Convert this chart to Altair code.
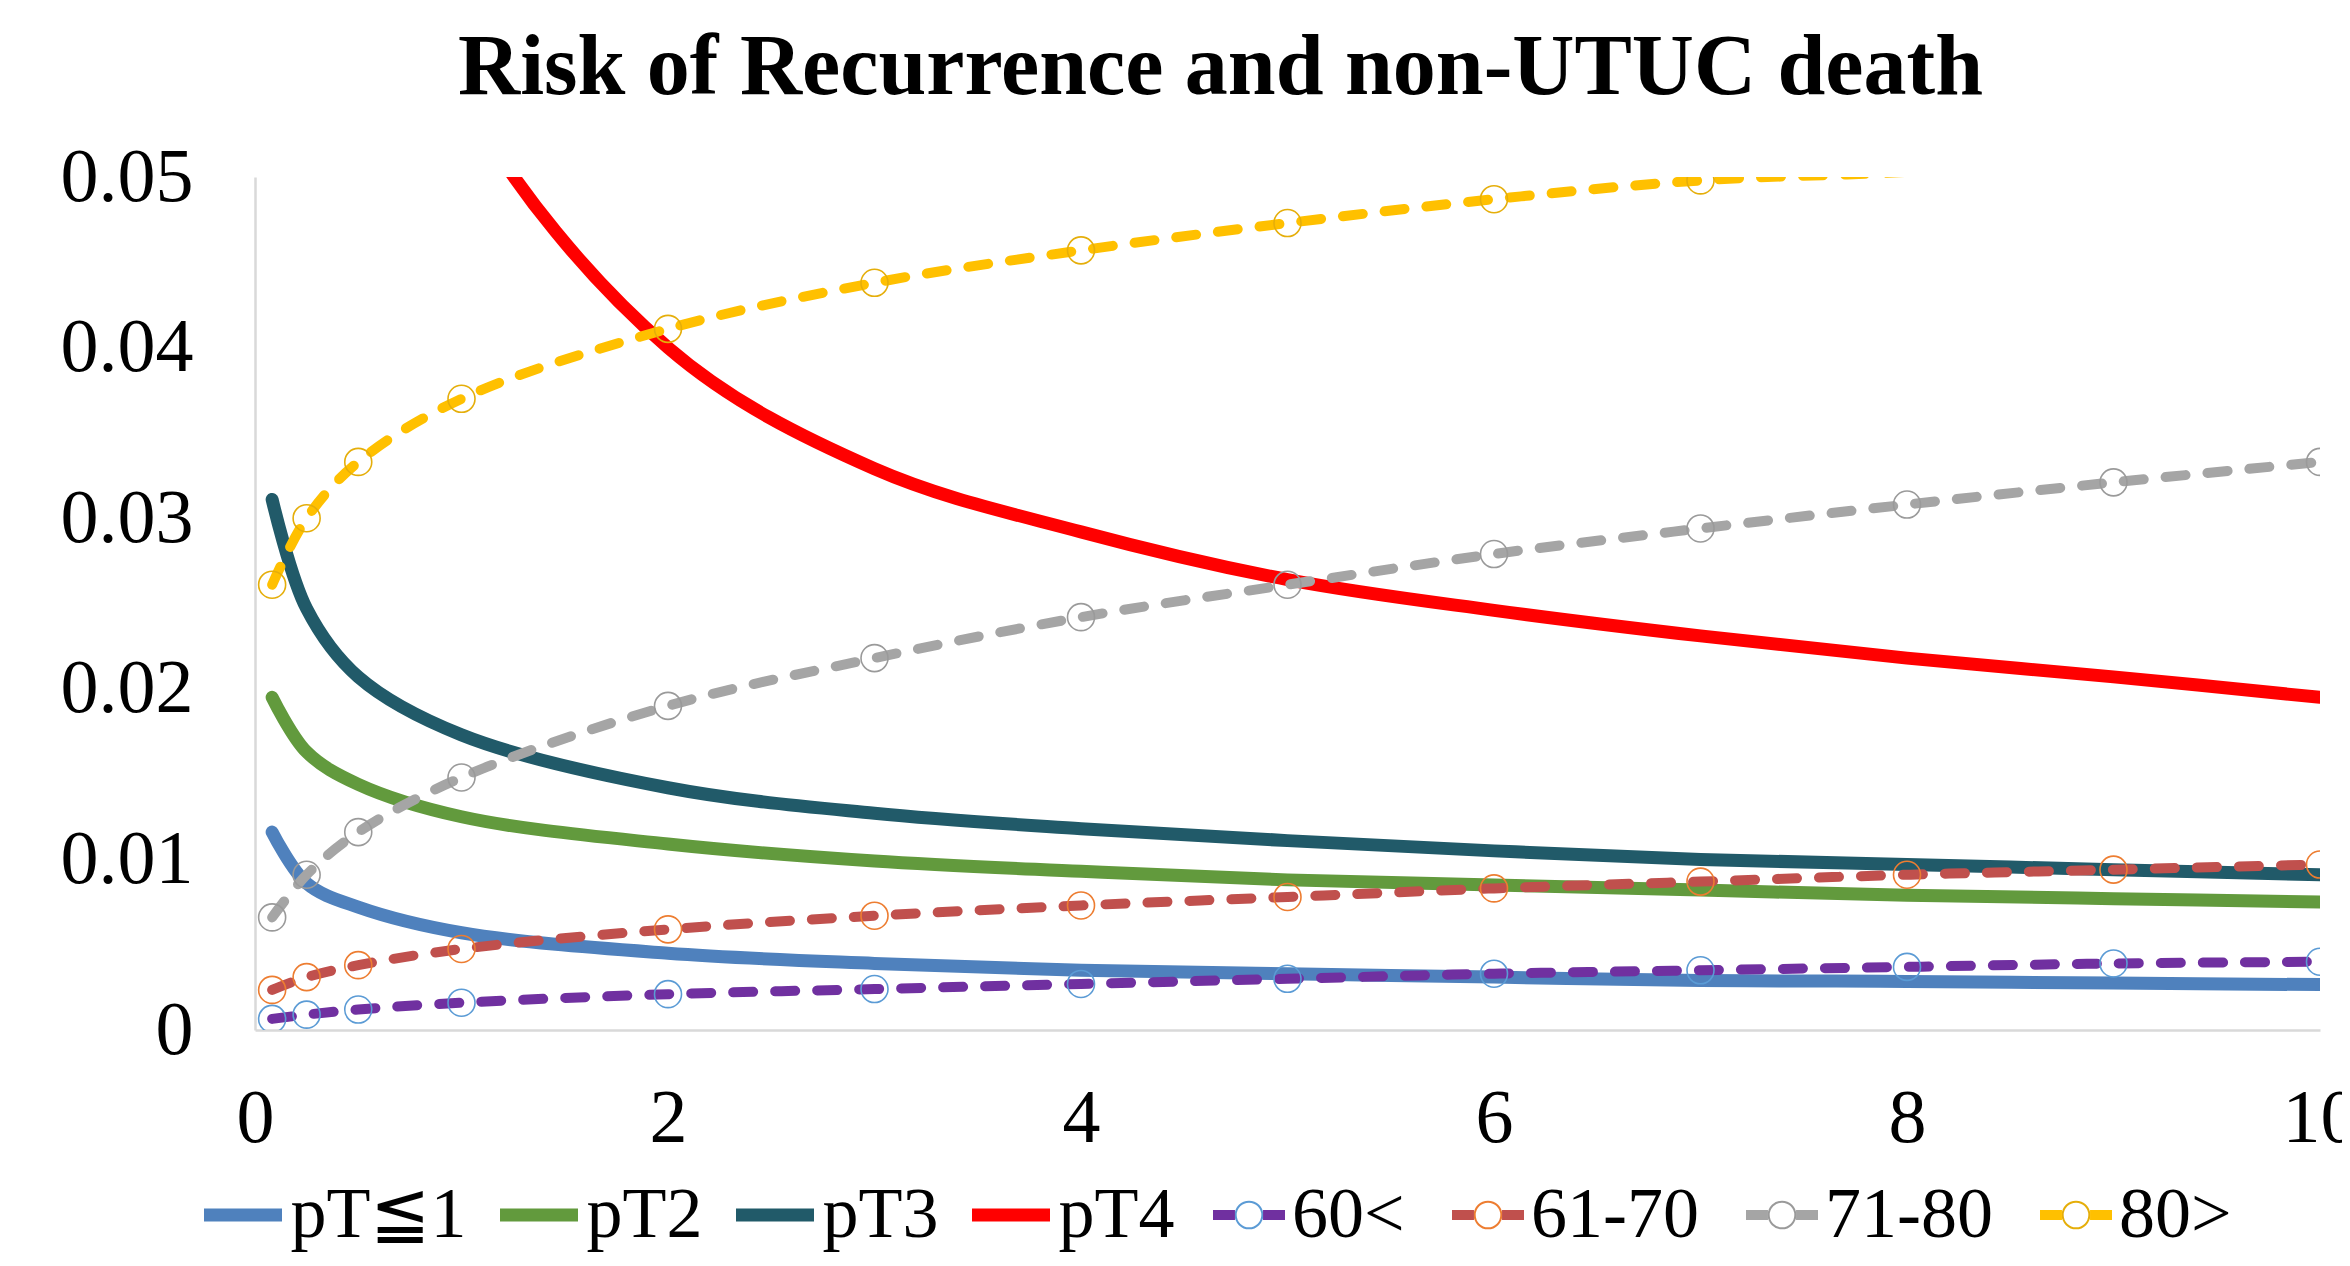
import altair as alt
import pandas as pd

# ---- data ----
years = [0.083, 0.25, 0.5, 1, 2, 3, 4, 5, 6, 7, 8, 9, 10]

pt_names = ["pT≦1", "pT2", "pT3", "pT4"]
pt1 = [0.0116, 0.0086, 0.0072, 0.0057, 0.0045, 0.0039, 0.0035, 0.0033, 0.0031, 0.0029, 0.00285, 0.00275, 0.00266]
pt2 = [0.0195, 0.0163, 0.0144, 0.0125, 0.0109, 0.0099, 0.0093, 0.0088, 0.0085, 0.0082, 0.0079, 0.0077, 0.0075]
pt3 = [0.0311, 0.0247, 0.0207, 0.0173, 0.0142, 0.0127, 0.0118, 0.0111, 0.0105, 0.0100, 0.0097, 0.0094, 0.0091]
pt4 = [0.168, 0.103, 0.075, 0.055, 0.0400, 0.0329, 0.0292, 0.0264, 0.0246, 0.0231, 0.0218, 0.0207, 0.0195]

age_names = ["60<", "61-70", "71-80", "80>"]
age1 = [0.00065, 0.0009, 0.0012, 0.0016, 0.0021, 0.0024, 0.0027, 0.0030, 0.0033, 0.0035, 0.0037, 0.0039, 0.0040]
age2 = [0.00235, 0.0031, 0.0038, 0.00475, 0.0059, 0.0067, 0.0073, 0.0078, 0.0083, 0.0087, 0.0091, 0.0094, 0.0097]
age3 = [0.0066, 0.0091, 0.0116, 0.0148, 0.0190, 0.0218, 0.0242, 0.0261, 0.0279, 0.0294, 0.0308, 0.0321, 0.0333]
age4 = [0.0261, 0.0300, 0.0333, 0.0370, 0.0411, 0.0438, 0.0457, 0.0473, 0.0487, 0.0498, 0.0503, 0.0511, 0.0518]

x_ticks = [0, 2, 4, 6, 8, 10]
y_ticks = [0, 0.01, 0.02, 0.03, 0.04, 0.05]
y_max = 0.05

pt_colors = ["#4F81BD", "#629A3D", "#215A69", "#FF0000"]
age_line_colors = ["#7030A0", "#C0504D", "#A5A5A5", "#FFC000"]
age_marker_colors = ["#5B9BD5", "#ED7D31", "#9A9A9A", "#E5AE0A"]

title_text = "Risk of Recurrence and non-UTUC death"
FONT = "Liberation Serif"

# ---- tables ----
rows = []
for name, vals in zip(pt_names, [pt1, pt2, pt3, pt4]):
    for t, v in zip(years, vals):
        rows.append({"t": t, "risk": v, "series": name})
df_pt = pd.DataFrame(rows)

rows = []
for name, vals in zip(age_names, [age1, age2, age3, age4]):
    for t, v in zip(years, vals):
        rows.append({"t": t, "risk": v, "series": name, "marker": name + " "})
df_age = pd.DataFrame(rows)
marker_domain = [n + " " for n in age_names]

x_enc = alt.X(
    "t:Q",
    scale=alt.Scale(domain=[0, 10], nice=False, zero=True),
    axis=alt.Axis(values=x_ticks, title=None, labelPadding=51, format="d", labelFlush=False),
)
y_enc = alt.Y(
    "risk:Q",
    scale=alt.Scale(domain=[0, y_max], nice=False),
    axis=alt.Axis(values=y_ticks, title=None, labelPadding=62, format=".2~f", labelFlush=False),
)

LEG_Y = 988
common_leg = dict(
    orient="none",
    direction="horizontal",
    legendY=LEG_Y,
    padding=0,
    clipHeight=100,
    labelFont=FONT,
    labelFontSize=72,
    labelColor="black",
    labelLimit=400,
    labelOffset=2,
)

pt_lines = alt.Chart(df_pt).mark_line(
    strokeWidth=13, strokeCap="round", strokeJoin="round",
    interpolate="catmull-rom", clip=True,
).encode(
    x=x_enc,
    y=y_enc,
    color=alt.Color(
        "series:N",
        title=None,
        scale=alt.Scale(domain=pt_names, range=pt_colors),
        legend=alt.Legend(
            legendX=-57.5,
            symbolType="stroke",
            symbolSize=6084,
            symbolStrokeWidth=13,
            columnPadding=27,
            **common_leg,
        ),
    ),
)

age_lines = alt.Chart(df_age).mark_line(
    strokeWidth=10, strokeCap="round", strokeJoin="round",
    strokeDash=[20, 22], interpolate="catmull-rom", clip=True,
).encode(
    x=x_enc,
    y=y_enc,
    color=alt.Color(
        "series:N",
        title=None,
        scale=alt.Scale(domain=age_names, range=age_line_colors),
        legend=alt.Legend(
            legendX=953,
            symbolType="M-1,0L-0.39,0M0.39,0L1,0",
            symbolSize=5184,
            symbolStrokeWidth=10,
            symbolDash=[200, 1],
            columnPadding=42,
            **common_leg,
        ),
    ),
)

age_points = alt.Chart(df_age).transform_filter(
    alt.datum.risk <= y_max
).mark_point(
    shape="circle", filled=False, size=729, strokeWidth=1.6, opacity=1, clip=True,
).encode(
    x=x_enc,
    y=y_enc,
    stroke=alt.Stroke(
        "marker:N",
        title=None,
        scale=alt.Scale(domain=marker_domain, range=age_marker_colors),
        legend=alt.Legend(
            legendX=953,
            symbolType="M0.333,0A0.333,0.333,0,1,1,-0.333,0A0.333,0.333,0,1,1,0.333,0Z",
            symbolSize=6400,
            symbolStrokeWidth=2,
            labelOpacity=0,
            labelExpr="trim(datum.label)",
            columnPadding=42,
            **common_leg,
        ),
    ),
)

chart = (
    alt.layer(pt_lines, age_lines, age_points)
    .resolve_scale(color="independent")
    .resolve_legend(color="independent")
    .properties(
        width=2065,
        height=853,
        autosize=alt.AutoSizeParams(type="none"),
        padding={"left": 247, "top": 169, "right": 22, "bottom": 223},
        title=alt.TitleParams(
            title_text,
            font=FONT,
            fontSize=86,
            fontWeight="bold",
            color="black",
            anchor="middle",
            frame="group",
            dx=-67,
            baseline="alphabetic",
            offset=-41,
        ),
    )
    .configure_view(strokeWidth=0)
    .configure_axis(
        domainColor="#D9D9D9",
        domainWidth=2.5,
        ticks=False,
        grid=False,
        labelFont=FONT,
        labelFontSize=76,
        labelColor="black",
    )
)

chart.save("out.html", embed_options={"renderer": "svg", "actions": False})
